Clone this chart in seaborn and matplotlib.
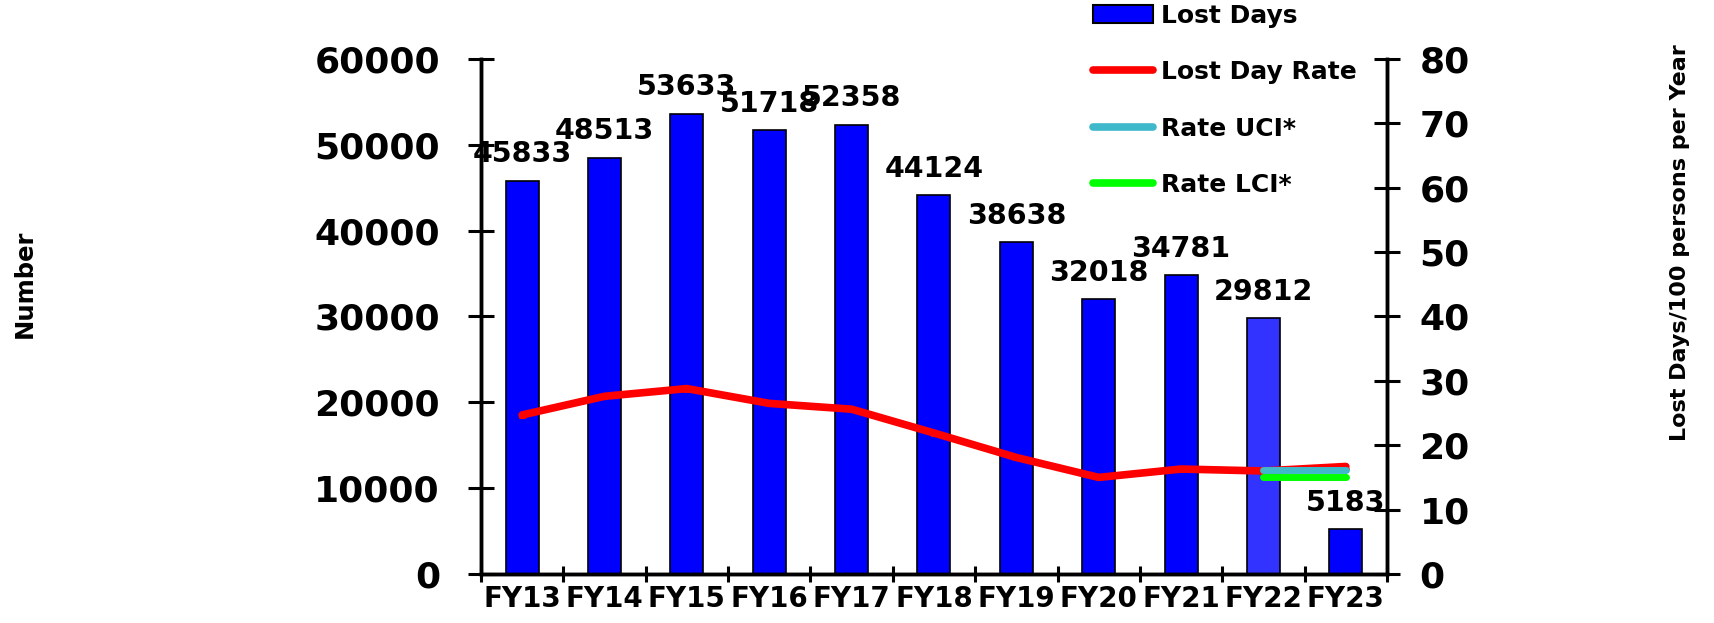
import matplotlib
matplotlib.use("Agg")
import matplotlib.pyplot as plt
import seaborn as sns
import numpy as np
from matplotlib.patches import Patch
from matplotlib.lines import Line2D
from matplotlib.ticker import FixedLocator, NullFormatter

# datos
years = ["FY13", "FY14", "FY15", "FY16", "FY17", "FY18",
         "FY19", "FY20", "FY21", "FY22", "FY23"]
lost_days = [45833, 48513, 53633, 51718, 52358, 44124,
             38638, 32018, 34781, 29812, 5183]
lost_day_rate = [24.7, 27.6, 28.8, 26.5, 25.6, 21.9,
                 18.1, 15.0, 16.3, 16.0, 16.7]
rate_uci = [np.nan] * 9 + [16.2, 16.2]
rate_lci = [np.nan] * 9 + [15.0, 15.0]
bar_colors = ["#0000FF"] * 9 + ["#3333FF", "#0000FF"]

sns.set_theme(style="white")
plt.rcParams["font.family"] = ["DejaVu Sans"]
plt.rcParams["font.weight"] = "bold"
for k in ("text.color", "axes.labelcolor", "xtick.color", "ytick.color"):
    plt.rcParams[k] = "black"

fig = plt.figure(figsize=(17.14, 6.23), dpi=100)
ax = fig.add_axes([0.2806, 0.0787, 0.5286, 0.8266])

pos = np.arange(len(years))
sns.barplot(x=pos, y=lost_days, hue=pos, palette=bar_colors, legend=False,
            width=0.4, edgecolor="black", linewidth=1.2, saturation=1,
            ax=ax, native_scale=True)

for i, v in enumerate(lost_days):
    ax.annotate(f"{v}", (i, v), xytext=(0, 9), textcoords="offset points",
                ha="center", va="bottom", fontsize=20.5, fontweight="bold")

ax.set_ylim(0, 60000)
ax.set_yticks(np.arange(0, 60001, 10000))
ax.set_xlim(-0.5, len(years) - 0.5)

# ticks mayores en los límites de categoría, etiquetas en los centros
ax.xaxis.set_major_locator(FixedLocator(np.arange(-0.5, len(years), 1.0)))
ax.xaxis.set_major_formatter(NullFormatter())
ax.xaxis.set_minor_locator(FixedLocator(pos))
ax.set_xticklabels(years, minor=True)
ax.tick_params(axis="x", which="minor", length=0, pad=8, labelsize=20)
ax.tick_params(axis="x", which="major", direction="inout", length=11, width=2.2,
               bottom=True)
ax.tick_params(axis="y", direction="inout", length=19, width=2.2, pad=20,
               labelsize=26, left=True)
ax.set_xlabel("")
ax.set_ylabel("")

ax2 = ax.twinx()
sns.lineplot(x=pos, y=lost_day_rate, color="#FF0000", linewidth=5.5,
             marker="^", markersize=5, markeredgecolor="#FF0000",
             solid_capstyle="round", ax=ax2)
sns.lineplot(x=pos, y=rate_uci, color="#40B8CC", linewidth=5,
             solid_capstyle="round", ax=ax2)
sns.lineplot(x=pos, y=rate_lci, color="#00FF00", linewidth=5,
             solid_capstyle="round", ax=ax2)
ax2.set_ylim(0, 80)
ax2.set_yticks(np.arange(0, 81, 10))
ax2.tick_params(axis="y", direction="inout", length=19, width=2.2, pad=14,
                labelsize=26, right=True)
ax2.set_xlim(-0.5, len(years) - 0.5)
ax2.set_ylabel("")

for a in (ax, ax2):
    a.spines["top"].set_visible(False)
    for s in ("left", "right", "bottom"):
        a.spines[s].set_color("black")
        a.spines[s].set_linewidth(2.5)
    a.grid(False)

fig.text(0.0146, 0.544, "Number", rotation=90, ha="center", va="center",
         fontsize=17.5, fontweight="bold")
fig.text(0.980, 0.611, "Lost Days/100 persons per Year", rotation=90,
         ha="center", va="center", fontsize=16, fontweight="bold")

handles = [
    Patch(facecolor="#0000FF", edgecolor="black", linewidth=1.5),
    Line2D([], [], color="#FF0000", linewidth=5.5, solid_capstyle="round"),
    Line2D([], [], color="#40B8CC", linewidth=5.5, solid_capstyle="round"),
    Line2D([], [], color="#00FF00", linewidth=5.5, solid_capstyle="round"),
]
labels = ["Lost Days", "Lost Day Rate", "Rate UCI*", "Rate LCI*"]
fig.legend(handles, labels, loc="upper left", bbox_to_anchor=(0.636, 0.998),
           frameon=False, fontsize=18, handlelength=2.4, handletextpad=0.35,
           labelspacing=1.3, borderaxespad=0, borderpad=0.1)

fig.savefig("out.png", dpi=100)
